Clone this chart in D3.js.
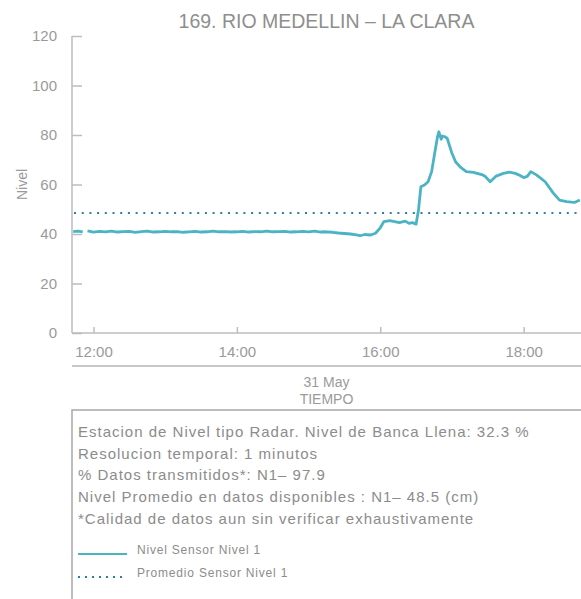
<!DOCTYPE html>
<html><head><meta charset="utf-8">
<script src="https://cdn.jsdelivr.net/npm/d3@7/dist/d3.min.js"></script>
<style>
html,body{margin:0;padding:0;background:#fff;overflow:hidden;}
svg{display:block;font-family:"Liberation Sans",Arial,sans-serif;}
</style></head>
<body><svg id="c" width="581" height="599"></svg>
<script>
const title = "169. RIO MEDELLIN \u2013 LA CLARA";
const yTicks = [0, 20, 40, 60, 80, 100, 120];
const xTickLabels = ["12:00", "14:00", "16:00", "18:00"];
const dateLabel = "31 May";
const xAxisTitle = "TIEMPO";
const yAxisTitle = "Nivel";
const promedio = 48.5;
const times = ["11:43","11:47","11:51","11:53","11:55","12:00","12:05","12:10","12:15","12:20","12:25","12:30","12:35","12:40","12:45","12:50","12:55","13:00","13:05","13:10","13:15","13:20","13:25","13:30","13:35","13:40","13:45","13:50","13:55","14:00","14:05","14:10","14:15","14:20","14:25","14:30","14:35","14:40","14:45","14:50","14:55","15:00","15:05","15:10","15:15","15:20","15:25","15:30","15:35","15:40","15:43","15:47","15:52","15:56","16:00","16:03","16:08","16:12","16:16","16:21","16:24","16:27","16:30","16:32","16:34","16:37","16:40","16:43","16:46","16:48","16:49","16:51","16:52","16:54","16:56","17:00","17:03","17:07","17:12","17:18","17:21","17:25","17:28","17:32","17:37","17:43","17:48","17:53","17:57","18:00","18:03","18:06","18:11","18:18","18:25","18:30","18:36","18:40","18:43","18:47"];
const nivel = [41.0,41.2,40.9,null,41.3,40.8,41.1,40.9,41.2,40.8,41.0,41.1,40.7,41.0,41.2,40.8,40.9,41.1,40.9,41.0,40.7,40.9,41.1,40.8,40.9,41.2,40.9,41.0,40.8,40.9,41.1,40.8,41.0,40.9,41.2,40.9,41.0,41.1,40.8,40.9,41.1,40.9,41.2,40.8,40.9,40.7,40.4,40.2,40.0,39.6,39.3,39.8,39.6,40.3,42.5,45.0,45.4,45.0,44.6,45.2,44.3,44.6,44.0,49.7,59.1,59.8,61.1,65.2,73.9,79.5,81.3,78.3,79.6,79.3,78.7,72.6,69.2,67.0,65.2,64.9,64.5,64.0,63.2,61.1,63.4,64.5,65.0,64.5,63.6,62.8,63.3,65.2,63.8,61.1,56.4,53.7,53.1,52.9,52.8,53.7];

const svg = d3.select("#c");
const W = 581, H = 599;
const m = {l:72, r:581, t:36, b:333};
const parse = d3.timeParse("%Y-%m-%d %H:%M");
const data = times.map((t,i)=>({t: parse("2020-05-31 "+t), v: nivel[i]}));
const x = d3.scaleTime().domain([parse("2020-05-31 11:42"), parse("2020-05-31 18:48")]).range([m.l, m.r]);
const y = d3.scaleLinear().domain([0,120]).range([m.b, m.t]);

const axisColor = "#bdbdbd", textColor = "#9a9a9a";

// title
svg.append("text").attr("x", (m.l+m.r)/2).attr("y", 28).attr("text-anchor","middle")
  .attr("font-size", 19.5).attr("fill", "#8e8e8e").text(title);

// y axis
const ya = svg.append("g").attr("transform", `translate(${m.l},0)`)
  .call(d3.axisLeft(y).tickValues(yTicks).tickSize(-10).tickPadding(15).tickFormat(d3.format("d")));
ya.select(".domain").attr("stroke", axisColor).attr("stroke-width", 1.5).attr("d", `M0,${m.t}V${m.b}`);
ya.selectAll(".tick line").attr("stroke", axisColor).attr("stroke-width", 1.5);
ya.selectAll(".tick text").attr("fill", textColor).attr("font-size", 15).attr("font-family","Liberation Sans, Arial, sans-serif");

// x axis
const xTickVals = xTickLabels.map(s => parse("2020-05-31 " + s));
const xa = svg.append("g").attr("transform", `translate(0,${m.b})`)
  .call(d3.axisBottom(x).tickValues(xTickVals).tickSize(-6).tickPadding(10).tickFormat(d3.timeFormat("%H:%M")));
xa.select(".domain").attr("stroke", axisColor).attr("stroke-width", 1.5).attr("d", `M${m.l},0H${m.r}`);
xa.selectAll(".tick line").attr("stroke", axisColor).attr("stroke-width", 1.5);
xa.selectAll(".tick text").attr("fill", textColor).attr("font-size", 15).attr("font-family","Liberation Sans, Arial, sans-serif").attr("dy","0.9em");

// secondary axis line with date
svg.append("line").attr("x1", m.l).attr("x2", W).attr("y1", 366).attr("y2", 366)
  .attr("stroke", "#c8c8c8").attr("stroke-width", 2);
svg.append("text").attr("x", (m.l+m.r)/2).attr("y", 387).attr("text-anchor","middle")
  .attr("font-size", 14).attr("fill", textColor).text(dateLabel);
svg.append("text").attr("x", (m.l+m.r)/2).attr("y", 404).attr("text-anchor","middle")
  .attr("font-size", 14).attr("fill", textColor).text(xAxisTitle);

// y title
svg.append("text").attr("transform", `translate(27,${(m.t+m.b)/2}) rotate(-90)`).attr("text-anchor","middle")
  .attr("font-size", 14).attr("fill", textColor).text(yAxisTitle);

// plot clip
svg.append("clipPath").attr("id","clip").append("rect").attr("x", m.l).attr("y", 0).attr("width", m.r-m.l).attr("height", m.b);
const g = svg.append("g").attr("clip-path","url(#clip)");

const lineColor = "#4ab4c4", dotColor = "#2f7f9c";
// mean line
g.append("line").attr("x1", m.l+2).attr("x2", m.r).attr("y1", y(promedio)).attr("y2", y(promedio))
  .attr("stroke", dotColor).attr("stroke-width", 2).attr("stroke-dasharray", "2,5.7");
// data line
g.append("path").datum(data)
  .attr("d", d3.line().defined(d => d.v !== null).x(d => x(d.t)).y(d => y(d.v)))
  .attr("fill","none").attr("stroke", lineColor).attr("stroke-width", 2.8).attr("stroke-linejoin","round");

// legend box
svg.append("rect").attr("x", m.l).attr("y", 410).attr("width", 600).attr("height", 300)
  .attr("fill","none").attr("stroke", "#a8a8a8").attr("stroke-width", 1.5);
const info = [
  "Estacion de Nivel tipo Radar. Nivel de Banca Llena: 32.3 %",
  "Resolucion temporal: 1 minutos",
  "% Datos transmitidos*: N1\u2013 97.9",
  "Nivel Promedio en datos disponibles : N1\u2013 48.5 (cm)",
  "*Calidad de datos aun sin verificar exhaustivamente"
];
svg.append("g").selectAll("text").data(info).join("text")
  .attr("x", 78).attr("y", (d,i) => 437 + i*21.7)
  .attr("font-size", 15).attr("letter-spacing", 1.0).attr("fill", "#8c8c8c").text(d => d);
const legendItems = [
  {label: "Nivel Sensor Nivel 1", color: lineColor, dash: null, w: 2.2},
  {label: "Promedio Sensor Nivel 1", color: dotColor, dash: "2,5", w: 2}
];
const lg = svg.append("g").selectAll("g").data(legendItems).join("g")
  .attr("transform", (d,i) => `translate(0,${554 + i*23})`);
lg.append("line").attr("x1", 78).attr("x2", 127).attr("stroke", d => d.color)
  .attr("stroke-width", d => d.w).attr("stroke-dasharray", d => d.dash);
lg.append("text").attr("x", 137).attr("y", 0)
  .attr("font-size", 12).attr("letter-spacing", 0.8).attr("fill", "#8c8c8c").text(d => d.label);
</script></body></html>
